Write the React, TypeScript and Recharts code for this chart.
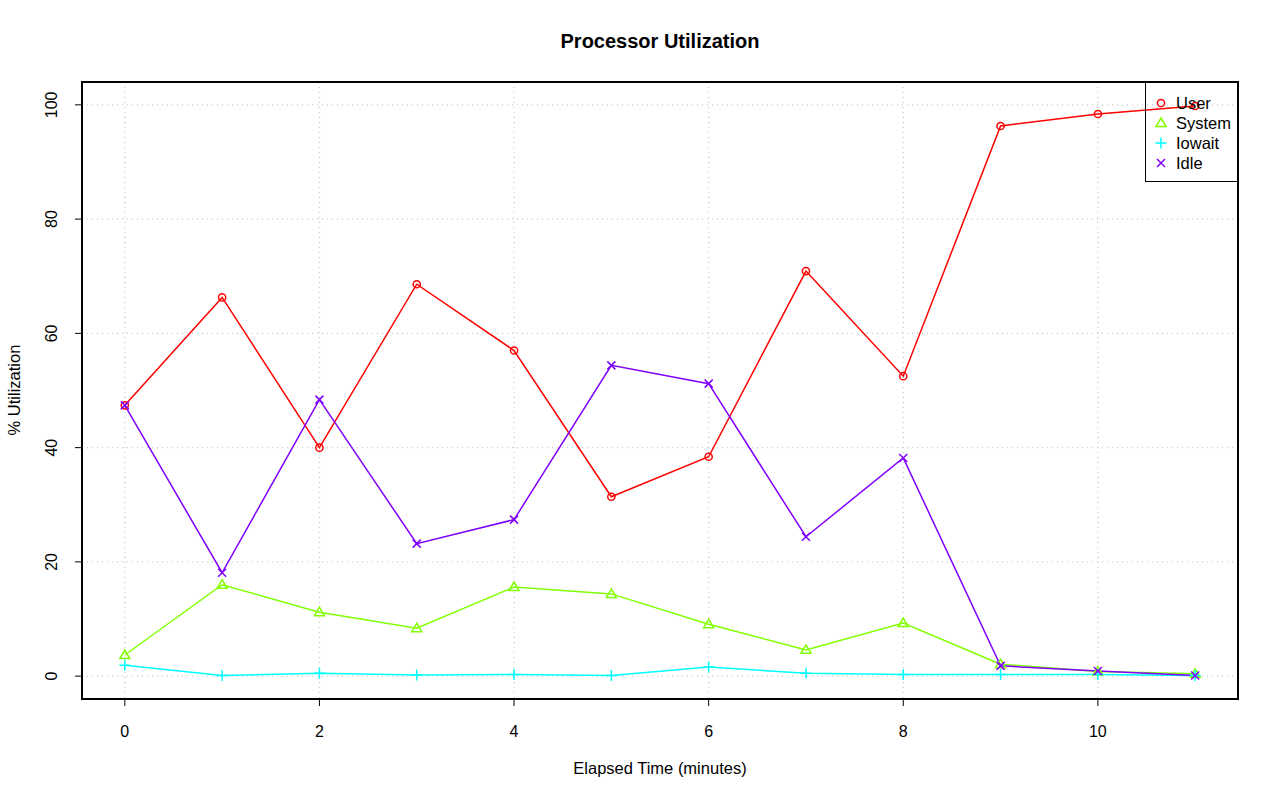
import React from 'react';
import { LineChart, Line, XAxis, YAxis, CartesianGrid, ReferenceArea } from 'recharts';

const minutes = [0, 1, 2, 3, 4, 5, 6, 7, 8, 9, 10, 11];
const user = [47.4, 66.3, 40.0, 68.6, 57.0, 31.4, 38.4, 70.9, 52.5, 96.3, 98.4, 99.8];
const system = [3.7, 16.0, 11.2, 8.4, 15.6, 14.4, 9.1, 4.6, 9.3, 2.1, 0.8, 0.4];
const iowait = [1.9, 0.1, 0.5, 0.2, 0.3, 0.1, 1.6, 0.5, 0.3, 0.3, 0.3, 0.1];
const idle = [47.4, 18.1, 48.4, 23.2, 27.4, 54.4, 51.2, 24.4, 38.2, 1.8, 0.9, 0.1];
const xTicks = [0, 2, 4, 6, 8, 10];
const yTicks = [0, 20, 40, 60, 80, 100];

const data = minutes.map((m, i) => ({
  m,
  user: user[i],
  system: system[i],
  iowait: iowait[i],
  idle: idle[i],
}));

const FONT = '"Liberation Sans", Arial, sans-serif';

const Circle = ({ cx, cy, color }: any) => (
  <circle cx={cx} cy={cy} r={3.6} fill="none" stroke={color} strokeWidth={1.5} />
);
const Triangle = ({ cx, cy, color }: any) => (
  <path d={`M${cx},${cy - 5} L${cx + 5},${cy + 3.5} L${cx - 5},${cy + 3.5} Z`} fill="none" stroke={color} strokeWidth={1.5} />
);
const Plus = ({ cx, cy, color }: any) => (
  <path d={`M${cx - 5.5},${cy} H${cx + 5.5} M${cx},${cy - 5.5} V${cy + 5.5}`} stroke={color} strokeWidth={1.5} />
);
const Cross = ({ cx, cy, color }: any) => (
  <path d={`M${cx - 4},${cy - 4} L${cx + 4},${cy + 4} M${cx - 4},${cy + 4} L${cx + 4},${cy - 4}`} stroke={color} strokeWidth={1.5} />
);

const series = [
  { key: 'user', name: 'User', color: '#FF0000', Shape: Circle },
  { key: 'system', name: 'System', color: '#80FF00', Shape: Triangle },
  { key: 'iowait', name: 'Iowait', color: '#00FFFF', Shape: Plus },
  { key: 'idle', name: 'Idle', color: '#8000FF', Shape: Cross },
];

const XTick = ({ x, payload }: any) => (
  <text x={x} y={737} textAnchor="middle" fontSize={16} fontFamily={FONT} fill="#000">
    {payload.value}
  </text>
);

const YTick = ({ y, payload }: any) => (
  <text x={57} y={y} transform={`rotate(-90, 57, ${y})`} textAnchor="middle" fontSize={16} fontFamily={FONT} fill="#000">
    {payload.value}
  </text>
);

export default function App() {
  return (
    <div style={{ position: 'absolute', left: 0, top: 0, width: 1280, height: 801, background: '#fff', fontFamily: FONT }}>
      <LineChart
        width={1280}
        height={801}
        data={data}
        margin={{ top: 82, right: 42, left: 22, bottom: 62 }}
      >
        <CartesianGrid stroke="#c8c8c8" strokeDasharray="1 4" strokeWidth={1.2} />
        <XAxis
          dataKey="m"
          type="number"
          domain={[-0.44, 11.44]}
          ticks={xTicks}
          height={40}
          axisLine={false}
          tickLine={{ stroke: '#000' }}
          tickSize={7}
          tick={<XTick />}
          interval={0}
        />
        <YAxis
          type="number"
          domain={[-4, 104]}
          ticks={yTicks}
          width={60}
          axisLine={false}
          tickLine={{ stroke: '#000' }}
          tickSize={7}
          tick={<YTick />}
          interval={0}
        />
        <ReferenceArea x1={-0.44} x2={11.44} y1={-4} y2={104} fill="none" stroke="#000" strokeWidth={2} ifOverflow="visible" />
        {series.map((s) => (
          <Line
            key={s.key}
            type="linear"
            dataKey={s.key}
            stroke={s.color}
            strokeWidth={1.5}
            dot={(p: any) => <s.Shape key={`${s.key}-${p.index}`} cx={p.cx} cy={p.cy} color={s.color} />}
            activeDot={false}
            isAnimationActive={false}
          />
        ))}
      </LineChart>
      <div style={{ position: 'absolute', left: 82, width: 1156, top: 30, textAlign: 'center', fontSize: 20, fontWeight: 'bold' }}>
        Processor Utilization
      </div>
      <div style={{ position: 'absolute', left: 82, width: 1156, top: 759, textAlign: 'center', fontSize: 16.5 }}>
        Elapsed Time (minutes)
      </div>
      <div style={{ position: 'absolute', left: 14, top: 390, fontSize: 16.5, whiteSpace: 'nowrap', transform: 'translate(-50%, -50%) rotate(-90deg)' }}>
        % Utilization
      </div>
      <div style={{ position: 'absolute', left: 1145, top: 82, width: 91, height: 99, border: '1px solid #000', borderTopWidth: 0, borderRightWidth: 0 }}>
        {series.map((s, i) => (
          <div key={s.key} style={{ position: 'absolute', left: 0, top: 11 + i * 20, height: 20, display: 'flex', alignItems: 'center' }}>
            <svg width={30} height={20}>
              <s.Shape cx={15} cy={10} color={s.color} />
            </svg>
            <span style={{ fontSize: 16.5 }}>{s.name}</span>
          </div>
        ))}
      </div>
    </div>
  );
}
